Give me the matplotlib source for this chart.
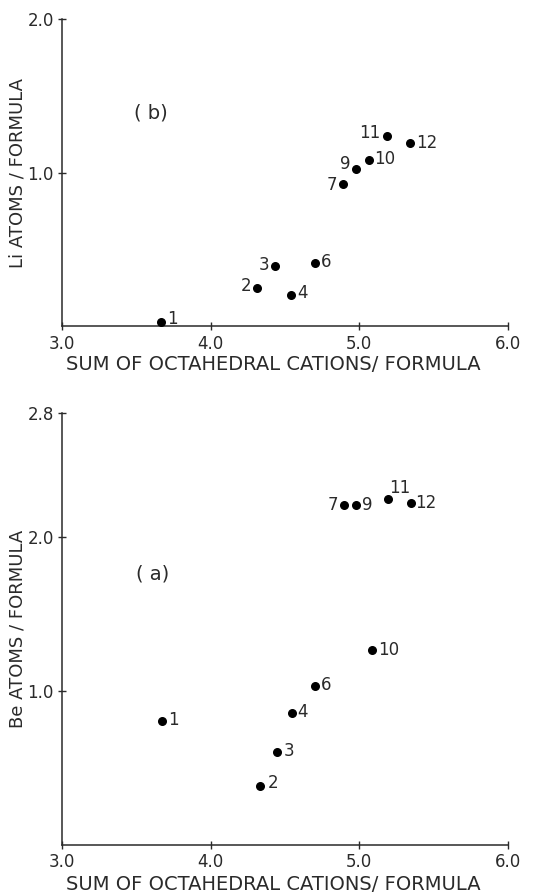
import matplotlib
matplotlib.use("Agg")
import matplotlib.pyplot as plt

plt.rcParams['font.family'] = ['DejaVu Sans']

# ---- data ----
sample_ids = ["1", "2", "3", "4", "6", "7", "9", "10", "11", "12"]
oct_sum_b = [3.667, 4.315, 4.436, 4.539, 4.70, 4.893, 4.978, 5.067, 5.186, 5.340]
li_atoms = [0.03, 0.25, 0.39, 0.206, 0.41, 0.926, 1.026, 1.083, 1.239, 1.195]
oct_sum_a = [3.673, 4.331, 4.445, 4.546, 4.70, 4.90, 4.978, 5.085, 5.19, 5.345]
be_atoms = [0.805, 0.385, 0.604, 0.855, 1.034, 2.206, 2.206, 1.268, 2.245, 2.216]
x_ticks = [3.0, 4.0, 5.0, 6.0]
x_tick_labels = ["3.0", "4.0", "5.0", "6.0"]
li_ticks = [1.0, 2.0]
li_tick_labels = ["1.0", "2.0"]
be_ticks = [1.0, 2.0, 2.8]
be_tick_labels = ["1.0", "2.0", "2.8"]
xlabel = "SUM OF OCTAHEDRAL CATIONS/ FORMULA"
li_label = "Li ATOMS / FORMULA"
be_label = "Be ATOMS / FORMULA"

# ---- label placement (pixel offsets, alignment) ----
place_b = {
    "1": (6, 3, "left"), "2": (-6, 2, "right"), "3": (-6, 1, "right"),
    "4": (6, 2, "left"), "6": (6, 1, "left"), "7": (-6, -1, "right"),
    "9": (-6, 5, "right"), "10": (5, 1, "left"), "11": (-7, 3, "right"),
    "12": (6, 0, "left"),
}
place_a = {
    "1": (6, 1, "left"), "2": (8, 3, "left"), "3": (7, 1, "left"),
    "4": (5, 1, "left"), "6": (6, 1, "left"), "7": (-6, 0, "right"),
    "9": (6, 0, "left"), "10": (6, 0, "left"), "11": (2, 11, "left"),
    "12": (5, 0, "left"),
}

ink = "#2a2a2a"
fig = plt.figure(figsize=(5.52, 8.96), dpi=100)
W, H = 552, 896


def make_ax(left, right, top, bottom):
    return fig.add_axes([left / W, 1 - bottom / H, (right - left) / W, (bottom - top) / H])


def style(ax, ymax, yticks, yticklabels, ylab, panel, panel_xy, pts_x, pts_y,
          place, height_px, xlabel_gap_px):
    ax.set_xlim(3.0, 6.0)
    ax.set_ylim(0, ymax)
    for s in ("top", "right"):
        ax.spines[s].set_visible(False)
    for s in ("left", "bottom"):
        ax.spines[s].set_color(ink)
        ax.spines[s].set_linewidth(1.1)
    ax.set_xticks(x_ticks)
    ax.set_xticklabels(x_tick_labels)
    ax.set_yticks(yticks)
    ax.set_yticklabels(yticklabels)
    ax.tick_params(direction="inout", length=6, width=1.0, color=ink,
                   labelsize=12, labelcolor=ink, pad=3)
    ax.set_xlabel(xlabel, fontsize=14, color=ink, va="top")
    ax.set_ylabel(ylab, fontsize=13, color=ink, va="center")
    ax.xaxis.set_label_coords(0.473, -xlabel_gap_px / height_px)
    ax.yaxis.set_label_coords((18 - 62) / 446, 0.5)
    ax.scatter(pts_x, pts_y, s=30, color="black", zorder=3, clip_on=False)
    for sid, xv, yv in zip(sample_ids, pts_x, pts_y):
        dx, dy, ha = place[sid]
        ax.annotate(sid, (xv, yv), xytext=(dx, dy), textcoords="offset pixels",
                    ha=ha, va="center", fontsize=12, color=ink)
    ax.text(panel_xy[0], panel_xy[1], panel, fontsize=14, color=ink,
            ha="center", va="center")


ax_b = make_ax(62, 508, 19, 326.4)
style(ax_b, 2.0, li_ticks, li_tick_labels, li_label, "( b)", (3.60, 1.386),
      oct_sum_b, li_atoms, place_b, 307.4, 29)

ax_a = make_ax(62, 508, 413.5, 845)
style(ax_a, 2.8, be_ticks, be_tick_labels, be_label, "( a)", (3.61, 1.76),
      oct_sum_a, be_atoms, place_a, 431.5, 30)

fig.savefig("out.png", dpi=100, facecolor="white")
